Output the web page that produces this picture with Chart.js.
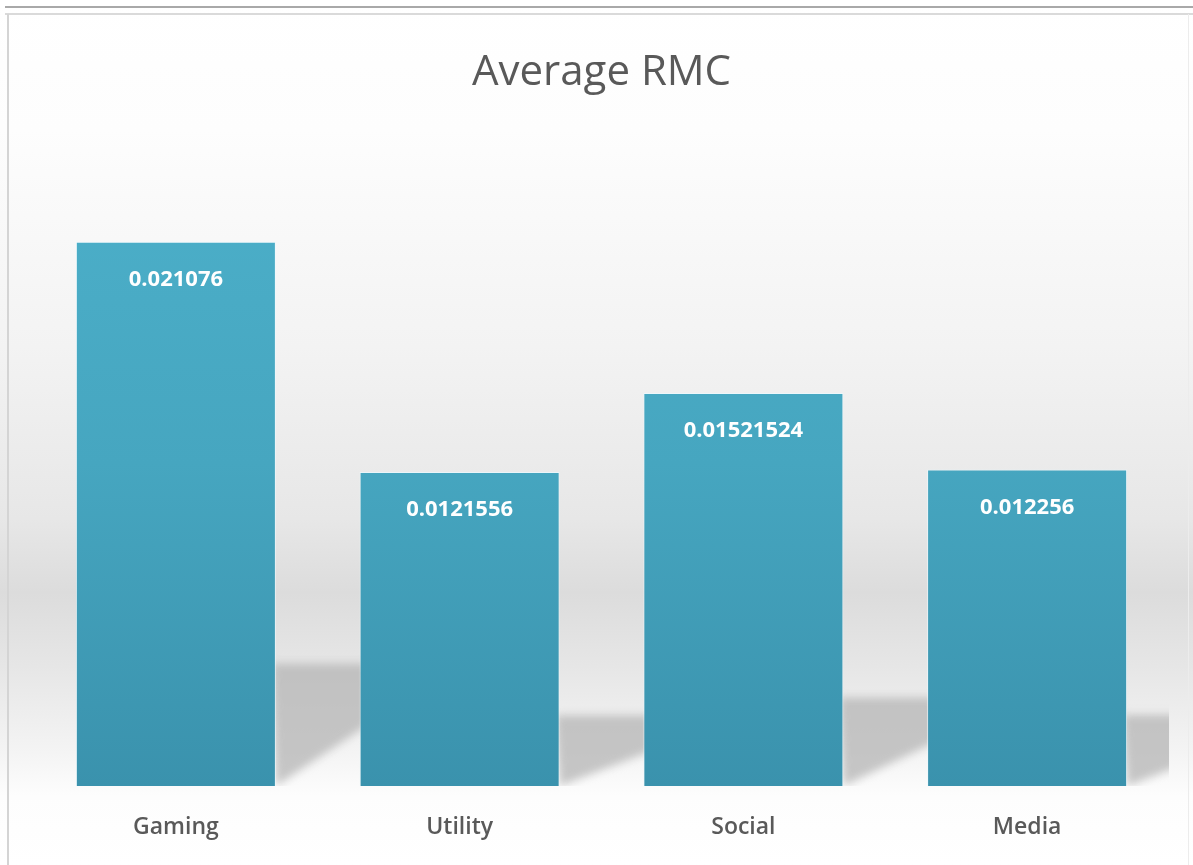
<!DOCTYPE html>
<html>
<head>
<meta charset="utf-8">
<title>Average RMC</title>
<script src="https://cdn.jsdelivr.net/npm/chart.js@4/dist/chart.umd.min.js"></script>
<style>
  html, body { margin: 0; padding: 0; background: #ffffff; }
  #wrap { width: 1193px; height: 865px; position: relative; }
  canvas { display: block; }
</style>
</head>
<body>
<div id="wrap"><canvas id="chart" width="1193" height="865"></canvas></div>
<script>
// Average RMC per app category
const categories = ['Gaming', 'Utility', 'Social', 'Media'];
const averageRmc = [0.021076, 0.0121556, 0.01521524, 0.012256];
const valueLabels = ['0.021076', '0.0121556', '0.01521524', '0.012256'];

const FONT = "'Open Sans', 'Noto Sans', sans-serif";

// Soft grey backdrop with a darker band near the floor, plus the frame lines
const backdrop = {
  id: 'backdrop',
  beforeDraw(chart) {
    const { ctx, width, height } = chart;
    ctx.save();
    const g = ctx.createLinearGradient(0, 0, 0, height);
    g.addColorStop(0.00, '#ffffff');
    g.addColorStop(0.15, '#fdfdfd');
    g.addColorStop(0.40, '#f3f3f3');
    g.addColorStop(0.60, '#e7e7e7');
    g.addColorStop(0.685, '#dcdcdc');
    g.addColorStop(0.77, '#e6e6e6');
    g.addColorStop(0.87, '#f4f4f4');
    g.addColorStop(0.92, '#fdfdfd');
    g.addColorStop(1.00, '#ffffff');
    ctx.fillStyle = g;
    ctx.fillRect(0, 0, width, height);

    // frame
    ctx.fillStyle = '#ffffff';
    ctx.fillRect(0, 0, width, 7);
    ctx.strokeStyle = '#a9a9a9';
    ctx.lineWidth = 2;
    ctx.beginPath(); ctx.moveTo(5, 7); ctx.lineTo(width, 7); ctx.stroke();
    ctx.strokeStyle = '#dadada';
    ctx.lineWidth = 2;
    ctx.beginPath(); ctx.moveTo(5, 14); ctx.lineTo(width, 14); ctx.stroke();
    ctx.strokeStyle = '#d4d4d4';
    ctx.lineWidth = 2;
    ctx.beginPath(); ctx.moveTo(8, 14); ctx.lineTo(8, height); ctx.stroke();
    ctx.strokeStyle = '#ececec';
    ctx.lineWidth = 1;
    ctx.beginPath(); ctx.moveTo(1188.5, 14); ctx.lineTo(1188.5, height); ctx.stroke();
    ctx.restore();
  }
};

// Floor shadow cast behind each bar, towards the right
const barShadows = {
  id: 'barShadows',
  beforeDatasetsDraw(chart) {
    const { ctx, chartArea } = chart;
    const meta = chart.getDatasetMeta(0);
    ctx.save();
    ctx.beginPath();
    ctx.rect(chartArea.left, chartArea.top, chartArea.right - chartArea.left, chartArea.bottom - chartArea.top);
    ctx.clip();
    ctx.filter = 'blur(4px)';
    ctx.fillStyle = 'rgba(180,180,180,0.75)';
    meta.data.forEach(bar => {
      const right = bar.x + bar.width / 2;
      const h = bar.base - bar.y;
      const depth = h * 0.225;
      const top = bar.base - depth;
      ctx.beginPath();
      ctx.moveTo(right - 4, top);
      ctx.lineTo(right + 92, top);
      ctx.lineTo(right + 92, top + depth * 0.5);
      ctx.lineTo(right, bar.base);
      ctx.closePath();
      ctx.fill();
    });
    ctx.restore();
  }
};

// Value labels written inside the top of each bar
const valueText = {
  id: 'valueText',
  afterDatasetsDraw(chart) {
    const { ctx } = chart;
    const meta = chart.getDatasetMeta(0);
    ctx.save();
    ctx.font = "bold 22px " + FONT;
    ctx.fillStyle = '#ffffff';
    ctx.textAlign = 'center';
    ctx.textBaseline = 'middle';
    meta.data.forEach((bar, i) => {
      ctx.fillText(valueLabels[i], bar.x, bar.y + 38);
    });
    ctx.restore();
  }
};

const ctx = document.getElementById('chart').getContext('2d');
new Chart(ctx, {
  type: 'bar',
  data: {
    labels: categories,
    datasets: [{
      label: 'Average RMC',
      data: averageRmc,
      backgroundColor(context) {
        const area = context.chart.chartArea;
        if (!area) return '#48a6c0';
        const g = context.chart.ctx.createLinearGradient(0, area.top, 0, area.bottom);
        g.addColorStop(0, '#4cb0ca');
        g.addColorStop(0.5, '#46a6c0');
        g.addColorStop(1, '#3a92ad');
        return g;
      },
      borderColor: 'rgba(235,250,255,0.7)',
      borderWidth: 1,
      barPercentage: 1,
      categoryPercentage: 0.705
    }]
  },
  options: {
    responsive: false,
    animation: false,
    layout: { padding: { left: 34, right: 24, top: 0, bottom: 0 } },
    scales: {
      x: {
        grid: { display: false, drawTicks: false },
        border: { display: false },
        ticks: {
          color: '#595959',
          font: { family: FONT, size: 23, weight: '600' },
          padding: 28
        },
        afterFit(scale) { scale.height = 79; }
      },
      y: {
        display: false,
        min: 0,
        max: 0.025
      }
    },
    plugins: {
      legend: { display: false },
      tooltip: { enabled: false },
      title: {
        display: true,
        text: 'Average RMC',
        color: '#595959',
        font: { family: FONT, size: 42, weight: 'normal' },
        padding: { top: 48, bottom: 42 }
      }
    }
  },
  plugins: [backdrop, barShadows, valueText]
});
</script>
</body>
</html>
